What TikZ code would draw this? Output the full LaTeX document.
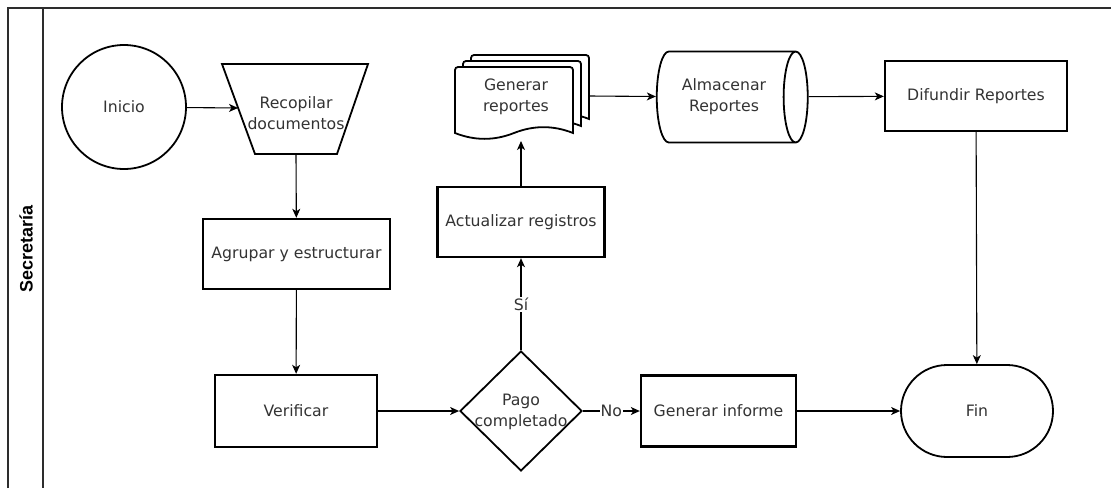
\documentclass[tikz,border=0pt]{standalone}
\usepackage{fontspec}
\setmainfont{DejaVu Sans}
\newfontfamily\lanefont{Liberation Sans}
\usetikzlibrary{shapes.geometric,arrows.meta}

\definecolor{txtgray}{RGB}{51,51,51}
\definecolor{lanegray}{RGB}{45,45,45}

% one sheet of the stacked-document symbol: left, right, top, wave midline
\newcommand\stackpage[4]{%
  \draw[docpage, rounded corners=3pt] (#1,#4) -- (#1,#3) -- (#2,#3)
    [sharp corners] -- (#2,#4)
    .. controls ({#2-19.67},{#4-7.8}) and ({#1+78.67},{#4-7.8}) .. ({#1+59},#4)
    .. controls ({#1+39.33},{#4+7.8}) and ({#1+19.67},{#4+7.8}) .. (#1,#4) -- cycle;}

\begin{document}
\begin{tikzpicture}[x=1pt, y=-1pt,
  every node/.style={font=\fontsize{15.7}{21}\selectfont, text=txtgray},
  lane/.style={draw=lanegray, line width=1.4pt},
  procbox/.style={draw=black, line width=2.4pt, fill=white, inner sep=2pt},
  outline/.style={draw=black, line width=1.8pt, fill=white},
  docpage/.style={draw=black, line width=1.8pt, fill=white},
  decision/.style={outline, diamond, minimum width=122pt, minimum height=120pt, inner sep=2pt},
  store/.style={outline, cylinder, aspect=0.6, minimum width=91pt, minimum height=151pt, inner sep=2pt},
  terminal/.style={outline, rounded corners=46pt, minimum width=152pt, minimum height=92pt},
  startcircle/.style={outline, circle, minimum size=124pt, inner sep=0pt},
  flow/.style={draw=black, line width=1.1pt, -{Stealth[length=9pt, width=8pt, inset=2.5pt]}},
  lbl/.style={fill=white, inner sep=1pt},
  lanetitle/.style={font=\lanefont\bfseries\fontsize{18}{20}\selectfont, text=black, rotate=90}
]
\useasboundingbox (0,0) rectangle (1111,488);

% swimlane frame and header
\draw[lane] (8,488) -- (8,8) -- (1111,8);
\draw[lane] (43,8) -- (43,488);
\node[lanetitle] (lane) at (26,249) {Secretaría};

% process shapes
\node[startcircle] (inicio) at (124,107) {Inicio};

% manual-operation trapezoid, wide side up
\draw[outline] (222,64) -- (368,64) -- (337,154) -- (255,154) -- cycle;
\node[align=center] (recop) at (296,113) {Recopilar\\documentos};
\coordinate (recop-in) at (238,108);
\coordinate (recop-out) at (296,154);

\node[procbox, minimum width=187pt, minimum height=70pt] (agrupar) at (296.5,254) {Agrupar y estructurar};
\node[procbox, minimum width=162pt, minimum height=72pt] (verif) at (296,411) {Verificar};
\node[decision] (pago) at (521,411) {\strut};
\node[align=center] (pagotxt) at (521,412) {Pago\\completado};
\node[procbox, minimum width=155pt, minimum height=71pt] (informe) at (718.5,411) {Generar informe};
\node[terminal] (fin) at (977,411) {Fin};
\node[procbox, minimum width=167pt, minimum height=70pt] (actual) at (521,222) {Actualizar registros};

% stacked documents
\stackpage{471}{589}{55}{119}
\stackpage{463}{581}{61}{126}
\stackpage{455}{573}{67}{133}
\node[align=center] (gen) at (516,97) {Generar\\reportes};
\coordinate (gen-in) at (521,141);
\coordinate (gen-out) at (589,96);

\node[store, align=center] (almacen) at (724,97) {Almacenar\\Reportes};
\node[procbox, minimum width=182pt, minimum height=70pt] (difundir) at (976,96) {Difundir Reportes};

% connectors
\draw[flow] (inicio) -- (recop-in);
\draw[flow] (recop-out) -- (agrupar);
\draw[flow] (agrupar) -- (verif);
\draw[flow] (verif) -- (pago);
\draw[flow] (pago) -- node[lbl] {No} (informe);
\draw[flow] (informe) -- (fin);
\draw[flow] (pago) -- node[lbl] {Sí} (actual);
\draw[flow] (actual) -- (gen-in);
\draw[flow] (gen-out) -- (almacen);
\draw[flow] (almacen) -- (difundir);
\draw[flow] (difundir) -- (fin);
\end{tikzpicture}
\end{document}
